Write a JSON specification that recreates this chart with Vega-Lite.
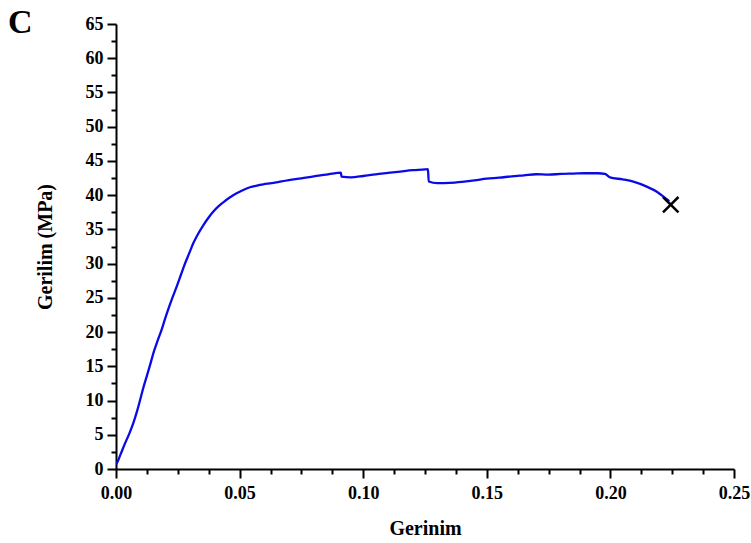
{
  "$schema": "https://vega.github.io/schema/vega-lite/v6.json",
  "width": 618,
  "height": 445,
  "autosize": "none",
  "padding": {"left": 116, "top": 24, "right": 17, "bottom": 74},
  "background": "white",
  "title": {
    "text": "C",
    "orient": "left",
    "anchor": "end",
    "angle": 0,
    "frame": "group",
    "font": "Liberation Serif",
    "fontWeight": "bold",
    "fontSize": 34,
    "color": "black",
    "dy": 9,
    "offset": -22,
    "baseline": "alphabetic"
  },
  "config": {
    "view": {"stroke": null},
    "axis": {
      "labelFont": "Liberation Serif",
      "labelFontWeight": "bold",
      "labelFontSize": 18,
      "labelColor": "black",
      "titleFont": "Liberation Serif",
      "titleFontWeight": "bold",
      "titleFontSize": 20,
      "titleColor": "black",
      "domainColor": "black",
      "domainWidth": 2,
      "tickColor": "black",
      "tickWidth": 2,
      "grid": false
    }
  },
  "datasets": {
    "curve": [
      {"strain": 0, "stress": 0.7},
      {"strain": 0.0003, "stress": 0.83},
      {"strain": 0.0018, "stress": 2.1},
      {"strain": 0.0036, "stress": 3.7},
      {"strain": 0.0053, "stress": 5.1},
      {"strain": 0.007, "stress": 6.7},
      {"strain": 0.0084, "stress": 8.3},
      {"strain": 0.0097, "stress": 10.0},
      {"strain": 0.011, "stress": 11.8},
      {"strain": 0.0124, "stress": 13.5},
      {"strain": 0.0138, "stress": 15.2},
      {"strain": 0.0151, "stress": 16.9},
      {"strain": 0.0168, "stress": 18.7},
      {"strain": 0.0185, "stress": 20.4},
      {"strain": 0.0198, "stress": 21.9},
      {"strain": 0.0212, "stress": 23.4},
      {"strain": 0.0228, "stress": 25.0},
      {"strain": 0.0245, "stress": 26.6},
      {"strain": 0.0262, "stress": 28.3},
      {"strain": 0.0279, "stress": 30.0},
      {"strain": 0.0296, "stress": 31.5},
      {"strain": 0.0313, "stress": 33.0},
      {"strain": 0.0333, "stress": 34.4},
      {"strain": 0.0353, "stress": 35.6},
      {"strain": 0.0374, "stress": 36.7},
      {"strain": 0.0394, "stress": 37.6},
      {"strain": 0.0414, "stress": 38.35},
      {"strain": 0.0434, "stress": 38.95},
      {"strain": 0.046, "stress": 39.65},
      {"strain": 0.0488, "stress": 40.27},
      {"strain": 0.0515, "stress": 40.75},
      {"strain": 0.0542, "stress": 41.15},
      {"strain": 0.057, "stress": 41.4},
      {"strain": 0.0596, "stress": 41.58},
      {"strain": 0.063, "stress": 41.75},
      {"strain": 0.066, "stress": 41.95},
      {"strain": 0.07, "stress": 42.2},
      {"strain": 0.075, "stress": 42.45},
      {"strain": 0.08, "stress": 42.75},
      {"strain": 0.085, "stress": 43.0},
      {"strain": 0.0895, "stress": 43.25},
      {"strain": 0.091, "stress": 43.3},
      {"strain": 0.0912, "stress": 42.7},
      {"strain": 0.095, "stress": 42.6},
      {"strain": 0.1, "stress": 42.8},
      {"strain": 0.105, "stress": 43.05},
      {"strain": 0.11, "stress": 43.25},
      {"strain": 0.115, "stress": 43.45},
      {"strain": 0.12, "stress": 43.65},
      {"strain": 0.125, "stress": 43.75},
      {"strain": 0.1262, "stress": 43.8},
      {"strain": 0.1265, "stress": 42.0},
      {"strain": 0.13, "stress": 41.75},
      {"strain": 0.135, "stress": 41.8},
      {"strain": 0.14, "stress": 41.95},
      {"strain": 0.145, "stress": 42.15},
      {"strain": 0.15, "stress": 42.4},
      {"strain": 0.155, "stress": 42.55},
      {"strain": 0.16, "stress": 42.75},
      {"strain": 0.165, "stress": 42.9},
      {"strain": 0.17, "stress": 43.05},
      {"strain": 0.175, "stress": 43.0},
      {"strain": 0.18, "stress": 43.1},
      {"strain": 0.185, "stress": 43.15},
      {"strain": 0.19, "stress": 43.2},
      {"strain": 0.195, "stress": 43.2},
      {"strain": 0.1978, "stress": 43.1},
      {"strain": 0.1998, "stress": 42.6},
      {"strain": 0.205, "stress": 42.3},
      {"strain": 0.2093, "stress": 41.97},
      {"strain": 0.2147, "stress": 41.24},
      {"strain": 0.2188, "stress": 40.5},
      {"strain": 0.2228, "stress": 39.4},
      {"strain": 0.2238, "stress": 39.1}
    ],
    "failure": [
      {"strain": 0.2244, "stress": 38.6}
    ]
  },
  "encoding": {
    "x": {
      "field": "strain",
      "type": "quantitative",
      "title": "Gerinim",
      "scale": {"domain": [0, 0.25], "nice": false, "zero": false},
      "axis": {
        "values": [0, 0.0125, 0.025, 0.0375, 0.05, 0.0625, 0.075, 0.0875, 0.1, 0.1125, 0.125, 0.1375, 0.15, 0.1625, 0.175, 0.1875, 0.2, 0.2125, 0.225, 0.2375, 0.25],
        "labelExpr": "round(datum.value * 10000) % 500 == 0 ? format(datum.value, '.2f') : ''",
        "tickSize": {"condition": {"test": "round(datum.value * 10000) % 500 == 0", "value": 9}, "value": 5},
        "labelPadding": 6,
        "titlePadding": 16,
        "labelFlush": false,
        "labelOverlap": false
      }
    },
    "y": {
      "field": "stress",
      "type": "quantitative",
      "title": "Gerilim (MPa)",
      "scale": {"domain": [0, 65], "nice": false, "zero": false},
      "axis": {
        "values": [0, 2.5, 5, 7.5, 10, 12.5, 15, 17.5, 20, 22.5, 25, 27.5, 30, 32.5, 35, 37.5, 40, 42.5, 45, 47.5, 50, 52.5, 55, 57.5, 60, 62.5, 65],
        "labelExpr": "round(datum.value * 10) % 50 == 0 ? format(datum.value, 'd') : ''",
        "tickSize": {"condition": {"test": "round(datum.value * 10) % 50 == 0", "value": 9}, "value": 5},
        "labelPadding": 4,
        "titlePadding": 30,
        "labelFlush": false,
        "labelOverlap": false
      }
    }
  },
  "layer": [
    {
      "data": {"name": "curve"},
      "mark": {"type": "line", "color": "#0a0ae6", "strokeWidth": 2.3, "interpolate": "monotone", "clip": true}
    },
    {
      "data": {"name": "failure"},
      "mark": {
        "type": "point",
        "shape": "M-1,-1L1,1M-1,1L1,-1",
        "filled": false,
        "stroke": "black",
        "strokeWidth": 2.5,
        "size": 240,
        "opacity": 1
      }
    }
  ]
}
